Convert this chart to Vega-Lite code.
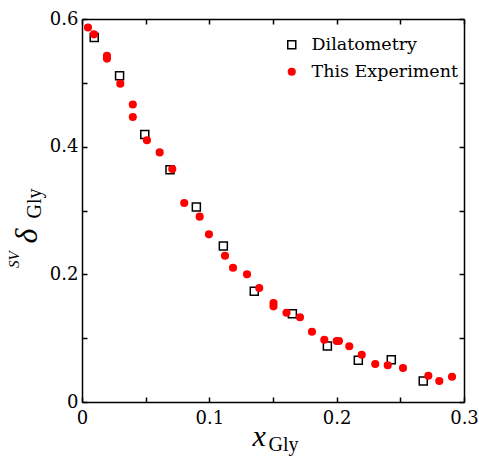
{
  "$schema": "https://vega.github.io/schema/vega-lite/v6.json",
  "width": 382,
  "height": 383,
  "autosize": {"type": "none"},
  "padding": {"left": 82, "top": 19, "right": 15, "bottom": 54},
  "background": "white",
  "config": {
    "view": {"stroke": null},
    "font": "Liberation Serif",
    "axis": {
      "grid": false,
      "domainColor": "black",
      "domainWidth": 1.5,
      "tickColor": "black",
      "tickWidth": 1.5,
      "tickSize": -5,
      "labelFont": "DejaVu Serif",
      "labelFontSize": 18,
      "labelColor": "black",
      "labelFlush": false,
      "labelOverlap": false,
      "titleFont": "Liberation Serif",
      "titleColor": "black",
      "titleFontWeight": "normal"
    }
  },
  "title": {
    "text": "SV",
    "orient": "left",
    "anchor": "start",
    "frame": "group",
    "font": "Liberation Serif",
    "fontSize": 15,
    "fontStyle": "italic",
    "fontWeight": "normal",
    "color": "black",
    "baseline": "alphabetic",
    "align": "left",
    "offset": 0,
    "dx": 134,
    "dy": 24
  },
  "data": {
    "values": [
      {"x": 0.0096, "y": 0.571, "series": "Dilatometry"},
      {"x": 0.0295, "y": 0.511, "series": "Dilatometry"},
      {"x": 0.0493, "y": 0.419, "series": "Dilatometry"},
      {"x": 0.0691, "y": 0.364, "series": "Dilatometry"},
      {"x": 0.0898, "y": 0.3055, "series": "Dilatometry"},
      {"x": 0.111, "y": 0.2444, "series": "Dilatometry"},
      {"x": 0.1353, "y": 0.1734, "series": "Dilatometry"},
      {"x": 0.1652, "y": 0.1383, "series": "Dilatometry"},
      {"x": 0.1927, "y": 0.0877, "series": "Dilatometry"},
      {"x": 0.217, "y": 0.0653, "series": "Dilatometry"},
      {"x": 0.2429, "y": 0.0663, "series": "Dilatometry"},
      {"x": 0.268, "y": 0.0329, "series": "Dilatometry"},
      {"x": 0.0047, "y": 0.5867, "series": "This Experiment"},
      {"x": 0.0094, "y": 0.576, "series": "This Experiment"},
      {"x": 0.0196, "y": 0.5425, "series": "This Experiment"},
      {"x": 0.0196, "y": 0.538, "series": "This Experiment"},
      {"x": 0.0301, "y": 0.4987, "series": "This Experiment"},
      {"x": 0.0399, "y": 0.4661, "series": "This Experiment"},
      {"x": 0.0399, "y": 0.4465, "series": "This Experiment"},
      {"x": 0.051, "y": 0.41, "series": "This Experiment"},
      {"x": 0.061, "y": 0.391, "series": "This Experiment"},
      {"x": 0.0709, "y": 0.365, "series": "This Experiment"},
      {"x": 0.0803, "y": 0.3118, "series": "This Experiment"},
      {"x": 0.0924, "y": 0.2903, "series": "This Experiment"},
      {"x": 0.0997, "y": 0.2627, "series": "This Experiment"},
      {"x": 0.1123, "y": 0.2292, "series": "This Experiment"},
      {"x": 0.1186, "y": 0.2104, "series": "This Experiment"},
      {"x": 0.1296, "y": 0.2001, "series": "This Experiment"},
      {"x": 0.1392, "y": 0.1786, "series": "This Experiment"},
      {"x": 0.1504, "y": 0.1551, "series": "This Experiment"},
      {"x": 0.1504, "y": 0.1499, "series": "This Experiment"},
      {"x": 0.1606, "y": 0.1399, "series": "This Experiment"},
      {"x": 0.1712, "y": 0.1327, "series": "This Experiment"},
      {"x": 0.1806, "y": 0.1101, "series": "This Experiment"},
      {"x": 0.1903, "y": 0.0976, "series": "This Experiment"},
      {"x": 0.2, "y": 0.0956, "series": "This Experiment"},
      {"x": 0.2018, "y": 0.0956, "series": "This Experiment"},
      {"x": 0.2099, "y": 0.0873, "series": "This Experiment"},
      {"x": 0.2197, "y": 0.0741, "series": "This Experiment"},
      {"x": 0.2303, "y": 0.0595, "series": "This Experiment"},
      {"x": 0.2401, "y": 0.0575, "series": "This Experiment"},
      {"x": 0.2521, "y": 0.0533, "series": "This Experiment"},
      {"x": 0.272, "y": 0.0412, "series": "This Experiment"},
      {"x": 0.2806, "y": 0.0329, "series": "This Experiment"},
      {"x": 0.2906, "y": 0.0396, "series": "This Experiment"}
    ]
  },
  "layer": [
    {
      "mark": {"type": "point", "strokeWidth": 1.5, "opacity": 1},
      "encoding": {
        "x": {
          "field": "x", "type": "quantitative",
          "scale": {"domain": [0, 0.3], "nice": false, "zero": false},
          "axis": {
            "orient": "bottom",
            "values": [0, 0.05, 0.1, 0.15, 0.2, 0.25, 0.3],
            "format": "~g",
            "labelExpr": "indexof(['0','0.1','0.2','0.3'], datum.label) >= 0 ? datum.label : ''",
            "labelFont": "DejaVu Serif",
            "labelFontSize": 18,
            "labelPadding": 12,
            "title": "x",
            "titleFontSize": 30,
            "titleFontStyle": "italic",
            "titleX": 170,
            "titleY": 43,
            "titleAlign": "left",
            "titleBaseline": "alphabetic",
            "titleAngle": 0
          }
        },
        "y": {
          "field": "y", "type": "quantitative",
          "scale": {"domain": [0, 0.6], "nice": false, "zero": false},
          "axis": {
            "orient": "left",
            "values": [0, 0.1, 0.2, 0.3, 0.4, 0.5, 0.6],
            "format": "~g",
            "labelExpr": "indexof(['0','0.2','0.4','0.6'], datum.label) >= 0 ? datum.label : ''",
            "labelFont": "DejaVu Serif",
            "labelFontSize": 18,
            "labelPadding": 9,
            "title": "δ",
            "titleFontSize": 32,
            "titleFontStyle": "italic",
            "titleX": -46,
            "titleY": 224,
            "titleAlign": "left",
            "titleBaseline": "alphabetic",
            "titleAngle": 270
          }
        },
        "shape": {
          "field": "series", "type": "nominal",
          "scale": {"domain": ["Dilatometry", "This Experiment"], "range": ["square", "circle"]},
          "legend": {
            "orient": "none",
            "legendX": 201,
            "legendY": 17,
            "title": null,
            "padding": 0,
            "symbolSize": 200,
            "labelFont": "DejaVu Serif",
            "labelFontSize": 17.5,
            "labelOffset": 11,
            "rowPadding": 8,
            "labelLimit": 300,
            "encode": {
              "labels": {"update": {
                "fill": {"signal": "datum.value === 'This Experiment' ? '#ff0000' : '#000000'"}
              }},
              "symbols": {"update": {
                "size": {"signal": "datum.value === 'This Experiment' ? 200 : 100"},
                "fill": {"signal": "datum.value === 'This Experiment' ? '#ff0000' : 'transparent'"},
                "stroke": {"signal": "datum.value === 'This Experiment' ? '#ff0000' : '#000000'"},
                "strokeWidth": {"value": 1.5}
              }}
            }
          }
        },
        "fill": {
          "field": "series", "type": "nominal",
          "scale": {"domain": ["Dilatometry", "This Experiment"], "range": ["transparent", "#ff0000"]}
        },
        "stroke": {
          "field": "series", "type": "nominal",
          "scale": {"domain": ["Dilatometry", "This Experiment"], "range": ["#000000", "#ff0000"]}
        },
        "size": {
          "field": "series", "type": "nominal",
          "scale": {"domain": ["Dilatometry", "This Experiment"], "range": [64, 44]}
        }
      }
    },
    {
      "mark": {"type": "point", "opacity": 0},
      "encoding": {
        "x": {
          "field": "x", "type": "quantitative",
          "axis": {
            "orient": "top",
            "values": [0, 0.05, 0.1, 0.15, 0.2, 0.25, 0.3],
            "labels": false,
            "title": "Gly",
            "titleFontSize": 20,
            "titleFontStyle": "normal",
            "titleX": 186,
            "titleY": 431,
            "titleAlign": "left",
            "titleBaseline": "alphabetic",
            "titleAngle": 0
          }
        },
        "y": {
          "field": "y", "type": "quantitative",
          "axis": {
            "orient": "right",
            "values": [0, 0.1, 0.2, 0.3, 0.4, 0.5, 0.6],
            "labels": false,
            "title": "Gly",
            "titleFontSize": 20,
            "titleFontStyle": "normal",
            "titleX": -424,
            "titleY": 199,
            "titleAlign": "left",
            "titleBaseline": "alphabetic",
            "titleAngle": 270
          }
        }
      }
    }
  ],
  "resolve": {"axis": {"x": "independent", "y": "independent"}}
}
